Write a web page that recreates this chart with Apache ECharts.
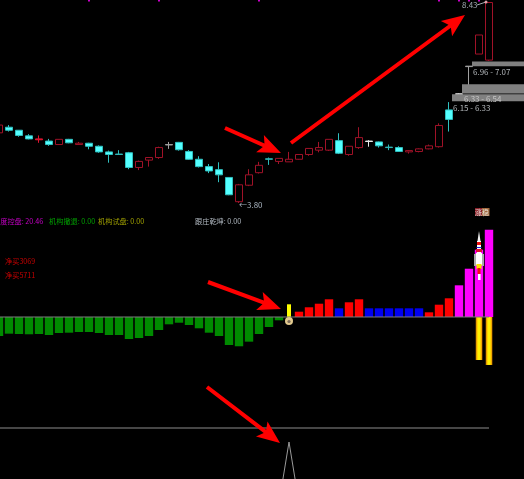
<!DOCTYPE html>
<html><head><meta charset="utf-8">
<style>html,body{margin:0;padding:0;background:#000}#c{width:524px;height:479px}</style>
<script src="https://cdn.jsdelivr.net/npm/echarts@6/dist/echarts.min.js"></script>
</head><body><div id="c"></div>
<script>
// ---- data: [open, close, low, high]
const candles = [
[5.42,5.60,5.42,5.60],[5.55,5.48,5.45,5.60],[5.48,5.36,5.33,5.48],[5.35,5.28,5.27,5.39],[5.26,5.28,5.19,5.36],
[5.23,5.15,5.12,5.28],[5.15,5.27,5.15,5.27],[5.27,5.19,5.18,5.28],[5.15,5.18,5.14,5.21],[5.18,5.11,5.04,5.19],
[5.11,4.98,4.96,5.13],[4.98,4.92,4.73,5.01],[4.93,4.92,4.91,5.02],[4.96,4.62,4.58,4.98],[4.62,4.76,4.56,4.78],
[4.79,4.85,4.64,4.86],[4.85,5.08,4.82,5.10],[5.14,5.15,5.05,5.21],[5.20,5.03,5.01,5.21],[4.99,4.81,4.80,5.02],
[4.81,4.64,4.62,4.88],[4.64,4.54,4.49,4.70],[4.57,4.45,4.28,4.74],[4.39,3.99,3.98,4.40],[3.83,4.22,3.80,4.24],
[4.21,4.45,4.19,4.58],[4.50,4.67,4.48,4.75],[4.82,4.81,4.68,4.85],[4.76,4.83,4.70,4.83],[4.75,4.81,4.75,4.98],
[4.81,4.92,4.80,4.92],[4.92,5.06,4.89,5.06],[5.02,5.08,4.97,5.21],[5.02,5.27,5.00,5.27],[5.24,4.95,4.93,5.41],
[4.92,5.11,4.89,5.11],[5.08,5.31,5.05,5.55],[5.22,5.23,5.10,5.25],[5.21,5.12,5.08,5.22],[5.09,5.08,5.02,5.15],
[5.08,4.99,4.98,5.11],[4.98,5.01,4.94,5.02],[4.99,5.05,4.97,5.06],[5.05,5.12,5.04,5.15],[5.10,5.59,5.08,5.64],
[5.95,5.73,5.45,6.13],[6.31,6.32,6.31,6.33],[6.95,6.96,6.52,6.96],[7.24,7.68,7.24,7.68],[7.10,8.43,7.08,8.43]];
const dojiColors = {4:'#e01530',12:'#2fb8b8',17:'#a0a0a0',27:'#2fb8b8',37:'#e8e8e8',39:'#2fb8b8',46:'#e8e8e8',47:'#a0a0a0'};
const topDots = [9,16,26,44,46,47,48];
// price zones: [start index, low, high]
const zones = [[47.3,6.96,7.07],[46.3,6.33,6.54],[45.3,6.15,6.31]];
const histValues = [-4.42,-3.88,-3.95,-4.02,-3.95,-4.19,-3.72,-3.65,-3.49,-3.49,-3.72,-4.19,-4.19,-5.12,-4.88,-4.42,-3.02,-1.70,-1.33,-1.86,-2.63,-3.65,-4.42,-6.51,-6.81,-5.74,-3.95,-2.33,-0.77,
null,1.23,2.26,3.09,4.12,2.02,3.42,4.12,2.02,2.02,2.02,2.02,2.02,2.02,1.09,2.86,4.35,7.37,11.23,15.65,20.30];
const histKinds = 'ggggggggggggggggggggggggggggg.rrrrbrrbbbbbbrrrmmmm';
const yellowBar = {29:2.95};
const orangeBars = {48:-10,49:-11.16};
const spikeValues = {28:-75,29:-14,30:-75};
const labels = [
 ['极度控盘: 20.46',-7,221,'#c400c4',7.2],['机构撤退: 0.00',49,221,'#00a000',7.2],['机构试盘: 0.00',98,221,'#a0a000',7.2],
 ['跟庄乾坤: 0.00',195,221,'#b0b8c0',7.2],['净买3069',5,261,'#c80000',7.2],['净买5711',5,275,'#c80000',7.2],
 ['8.43',462,5,'#a0a8b0',8],['←3.80',239,205,'#a8b4c0',8],['6.96 - 7.07',473,72,'#b0b4b8',8],
 ['6.33 - 6.54',464,99,'#c4c4c4',8],['6.15 - 6.33',453,108,'#b0b4b8',8]];
const arrows = [[225,128,281,153],[291,143,465,15],[208,282,281,309],[207,387,280,443]];

const N = 53;
const cats = Array.from({length:N},(_,i)=>String(i));
const kindColor = {g:'#008a00',r:'#ff0000',b:'#0000f0',m:'#ff00ff'};

function axisX(grid){return {type:'category',gridIndex:grid,data:cats,show:false,boundaryGap:true};}
function axisY(grid,min,max){return {type:'value',gridIndex:grid,min,max,show:false,splitLine:{show:false}};}

function arrowShape(a){
  const [x0,y0,x1,y1]=a, L=Math.hypot(x1-x0,y1-y0), ux=(x1-x0)/L, uy=(y1-y0)/L, nx=-uy, ny=ux;
  const P=(t,s)=>[x1-ux*t+nx*s,y1-uy*t+ny*s];
  return {type:'polygon',silent:true,z:50,
    shape:{points:[P(L,2),P(19,2),P(23,9.5),P(0,0),P(23,-9.5),P(19,-2),P(L,-2)]},
    style:{fill:'#ff0000'}};
}
const rect=(x,y,w,h,fill)=>({type:'rect',silent:true,z:40,shape:{x,y,width:w,height:h},style:{fill}});
const rocket=[
 {type:'polygon',silent:true,z:40,shape:{points:[[479,231],[480.5,241],[477.5,241]]},style:{fill:'#f4f4f4'}},
 rect(477,241,4,12,'#ffffff'),rect(477,242,4,3,'#f01010'),rect(476.5,247,5,1,'#2020e0'),rect(476,249,6,3,'#e01030'),
 rect(474,254,10,12,'#a8a8a8'),rect(476,253,6,12,'#ffffff'),
 rect(476.5,264,5,5,'#ffe000'),rect(477.5,268,3,6,'#f01010'),rect(478,274,2.6,6,'#ffffff')];
const badge=[rect(475,208,7,8,'#8a1e28'),rect(482,208,7.5,8,'#a0683c'),
 {type:'text',silent:true,z:41,style:{x:475,y:212,text:'涨稳',fill:'#e8e0d8',font:'7px "Noto Sans CJK SC"',textVerticalAlign:'middle'}}];
const bag=[{type:'circle',silent:true,z:40,shape:{cx:289,cy:321,r:4},style:{fill:'#e2c98e'}},
 {type:'circle',silent:true,z:41,shape:{cx:289,cy:321.5,r:1.6},style:{fill:'#7a6a58'}}];
const leader=[{type:'line',silent:true,z:40,shape:{x1:477,y1:5,x2:486,y2:2},style:{stroke:'#a0a8b0',lineWidth:1}},
 {type:'circle',silent:true,z:41,shape:{cx:486,cy:2,r:1.5},style:{fill:'#e0a0a8'}}];
const texts=labels.map(l=>({type:'text',silent:true,z:45,style:{x:l[1],y:l[2],text:l[0],fill:l[3],
   font:l[4]+'px "Noto Sans CJK SC"',textVerticalAlign:'middle'}}));

const chart=echarts.init(document.getElementById('c'),null,{renderer:'canvas'});
const gridBase={left:-6,width:530,outerBoundsMode:'none',containLabel:false};
chart.setOption({
  animation:false,backgroundColor:'#000',
  grid:[{...gridBase,top:0,height:210},{...gridBase,top:225,height:145},{...gridBase,top:420,height:59}],
  xAxis:[axisX(0),axisX(1),axisX(1),axisX(1),axisX(2)],
  yAxis:[axisY(0,3.638,8.488),axisY(1,-12.33,21.4),axisY(1,-12.33,21.4),axisY(1,-12.33,21.4),axisY(2,-51,8)],
  series:[
   {type:'candlestick',xAxisIndex:0,yAxisIndex:0,barWidth:7,z:2,
    itemStyle:{color:'rgba(0,0,0,0)',color0:'#55ffff',borderColor:'#a01228',borderColor0:'#2fc0c0',borderWidth:1},
    data:candles.map((v,i)=>dojiColors[i]?{value:v,itemStyle:{color:dojiColors[i],color0:dojiColors[i],borderColor:dojiColors[i],borderColor0:dojiColors[i]}}:v)},
   {type:'custom',xAxisIndex:0,yAxisIndex:0,z:3,clip:false,data:zones,
    dimensions:[{name:'start',type:'number'},{name:'low',type:'number'},{name:'high',type:'number'}],
    renderItem(p,api){
      const s=zones[p.dataIndex][0], whole=Math.floor(s), band=api.size([1,0])[0];
      const a=api.coord([whole,api.value(2)]),b=api.coord([whole,api.value(1)]);
      const x=a[0]+(s-whole)*band;
      return {type:'rect',shape:{x,y:a[1],width:api.getWidth()-x,height:b[1]-a[1]},style:{fill:'#808080'}};}},
   {type:'scatter',xAxisIndex:0,yAxisIndex:0,symbol:'rect',symbolSize:[2,3],z:4,clip:true,silent:true,
    itemStyle:{color:'#ff00ff'},data:topDots.map(i=>[i,8.488])},
   {type:'bar',xAxisIndex:1,yAxisIndex:1,barWidth:8.4,z:2,
    data:histValues.map((v,i)=>v===null?null:{value:v,itemStyle:{color:kindColor[histKinds[i]]}})},
   {type:'bar',xAxisIndex:2,yAxisIndex:2,barWidth:4,z:2,itemStyle:{color:'#ffff00'},
    data:cats.map((c,i)=>yellowBar[i]??null)},
   {type:'bar',xAxisIndex:3,yAxisIndex:3,barWidth:6.6,z:2,
    itemStyle:{color:new echarts.graphic.LinearGradient(0,0,1,0,[{offset:0,color:'#c87000'},{offset:.25,color:'#ffd000'},{offset:.5,color:'#ffff00'},{offset:.75,color:'#ffd000'},{offset:1,color:'#e08000'}])},
    data:cats.map((c,i)=>orangeBars[i]??null)},
   {type:'line',xAxisIndex:1,yAxisIndex:1,z:3,symbol:'none',silent:true,lineStyle:{color:'#7c7c7c',width:1},
    data:candles.map(()=>0)},
   {type:'line',xAxisIndex:4,yAxisIndex:4,z:3,symbol:'none',silent:true,lineStyle:{color:'#8c8c8c',width:1},
    data:candles.map(()=>0)},
   {type:'line',xAxisIndex:4,yAxisIndex:4,z:3,symbol:'none',silent:true,clip:true,connectNulls:false,lineStyle:{color:'#9a9a9a',width:1},
    data:cats.map((c,i)=>spikeValues[i]??null)}
  ],
  graphic:{elements:[...texts,...rocket,...badge,...bag,...leader,...arrows.map(arrowShape)]}
});
</script></body></html>
